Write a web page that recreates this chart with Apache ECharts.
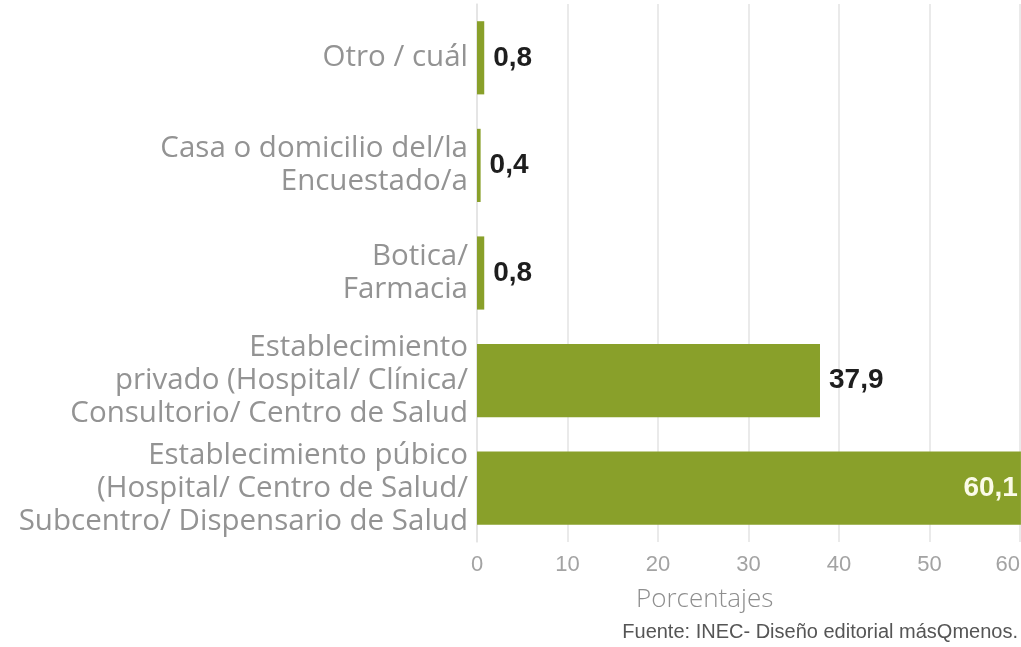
<!DOCTYPE html>
<html>
<head>
<meta charset="utf-8">
<script src="https://cdn.jsdelivr.net/npm/echarts@6/dist/echarts.min.js"></script>
<style>
  html, body { margin: 0; padding: 0; background: #fff; overflow: hidden; }
  #chart { width: 1021px; height: 647px; }
</style>
</head>
<body>
<div id="chart"></div>
<script>
// Lugar de atención (porcentajes), de arriba hacia abajo
const categories = [
  'Otro / cuál',
  'Casa o domicilio del/la\nEncuestado/a',
  'Botica/\nFarmacia',
  'Establecimiento\nprivado (Hospital/ Clínica/\nConsultorio/ Centro de Salud',
  'Establecimiento púbico\n(Hospital/ Centro de Salud/\nSubcentro/ Dispensario de Salud'
];
const values = [0.8, 0.4, 0.8, 37.9, 60.1];
const xTicks = [0, 10, 20, 30, 40, 50, 60];

const fmt = v => String(v).replace('.', ',');

const chart = echarts.init(document.getElementById('chart'));
chart.setOption({
  backgroundColor: '#fff',
  animation: false,
  grid: {
    left: 477, right: 1, top: 4, bottom: 105,
    containLabel: false,
    outerBoundsMode: 'none'
  },
  xAxis: {
    type: 'value',
    min: xTicks[0],
    max: xTicks[xTicks.length - 1],
    interval: 10,
    axisLine: { show: false },
    axisTick: { show: false },
    splitLine: { show: true, lineStyle: { color: '#e3e3e3', width: 1.5 } },
    axisLabel: {
      color: '#a3a3a3',
      fontFamily: 'Liberation Sans Narrow, Liberation Sans, sans-serif',
      fontSize: 22,
      margin: 12,
      alignMaxLabel: 'right'
    }
  },
  yAxis: {
    type: 'category',
    data: categories,
    inverse: true,
    axisLine: { show: true, lineStyle: { color: '#e3e3e3', width: 1.5 } },
    axisTick: { show: false },
    axisLabel: {
      color: '#939393',
      fontFamily: 'Open Sans, Liberation Sans, sans-serif',
      fontWeight: 400,
      fontSize: 29.5,
      lineHeight: 33,
      align: 'right',
      margin: 9
    }
  },
  series: [{
    type: 'bar',
    data: values.map((v, i) => ({
      value: v,
      label: i === values.length - 1
        ? { position: 'insideRight', color: '#fbfbe8', distance: 3 }
        : { position: 'right', color: '#1e1e1e', distance: 9 }
    })),
    barCategoryGap: '32%',
    clip: false,
    itemStyle: { color: '#89a02a' },
    label: {
      show: true,
      fontFamily: 'Liberation Sans, Arial, sans-serif',
      fontWeight: 'bold',
      fontSize: 28,
      formatter: p => fmt(p.value)
    }
  }],
  graphic: [
    {
      type: 'text',
      left: 636,
      top: 587,
      style: {
        text: 'Porcentajes',
        fill: '#8e8e8e',
        font: '300 26px "Open Sans", "Liberation Sans", sans-serif'
      }
    },
    {
      type: 'text',
      right: 3,
      top: 622,
      style: {
        text: 'Fuente: INEC- Diseño editorial másQmenos.',
        fill: '#555',
        font: '20px "Liberation Sans Narrow", "Liberation Sans", sans-serif'
      }
    }
  ]
});
</script>
</body>
</html>
